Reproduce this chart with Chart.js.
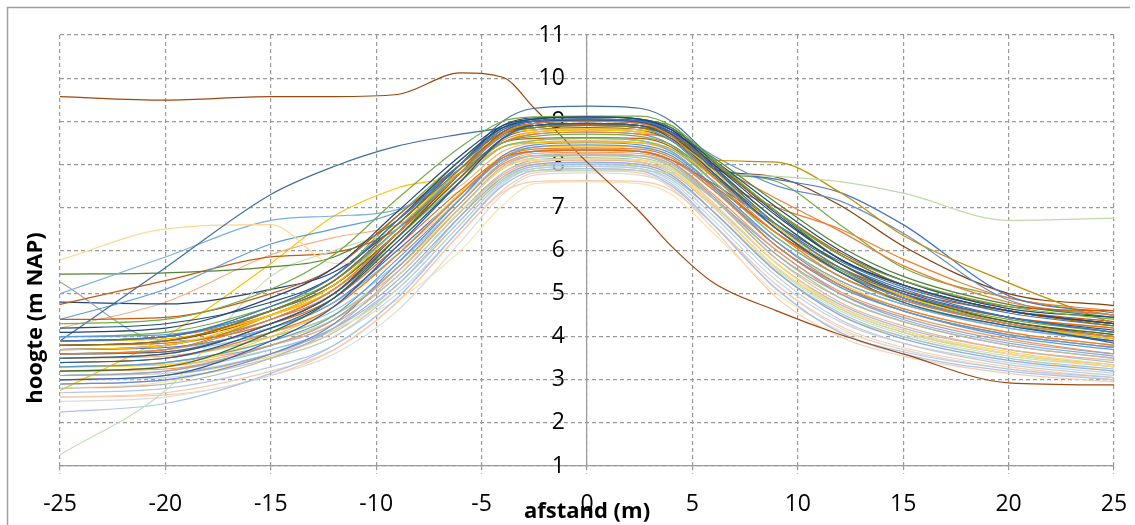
<!DOCTYPE html>
<html>
<head>
<meta charset="utf-8">
<script src="https://cdn.jsdelivr.net/npm/chart.js@4.4.1/dist/chart.umd.min.js"></script>
<style>
  body { margin: 0; background: #fff; }
  canvas { display: block; }
</style>
</head>
<body>
<canvas id="myChart" width="1135" height="525"></canvas>
<script>
// afstand (m) of the measuring points along every profile
const afstand = [-25, -20, -15, -12, -9, -6, -4, -2.5, 0, 2.5, 4, 6, 9, 12, 15, 20, 25];
const xTicks = [-25, -20, -15, -10, -5, 0, 5, 10, 15, 20, 25];
const yTicks = [1, 2, 3, 4, 5, 6, 7, 8, 9, 10, 11];

// hoogte (m NAP) per profile
const s01 = [3.9, 4.0, 4.7, 5.4, 6.7, 8.0, 8.8, 9.0, 9.05, 9.0, 8.75, 7.9, 6.6, 5.6, 5.0, 4.45, 4.1];
const s02 = [4.1, 4.2, 4.9, 5.6, 6.9, 8.2, 8.9, 9.05, 9.1, 9.05, 8.8, 8.0, 6.8, 5.8, 5.2, 4.6, 4.3];
const s03 = [3.6, 3.7, 4.4, 5.1, 6.4, 7.8, 8.7, 8.95, 9.0, 8.95, 8.65, 7.7, 6.4, 5.4, 4.85, 4.3, 4.0];
const s04 = [4.3, 4.4, 5.1, 5.9, 7.2, 8.4, 9.0, 9.1, 9.12, 9.12, 8.9, 8.1, 6.9, 5.9, 5.3, 4.7, 4.4];
const s05 = [3.4, 3.5, 4.2, 4.9, 6.2, 7.6, 8.6, 8.9, 8.95, 8.9, 8.6, 7.8, 6.5, 5.5, 4.8, 4.25, 3.9];
const s06 = [3.8, 3.9, 4.6, 5.3, 6.6, 7.9, 8.7, 8.85, 8.9, 8.85, 8.65, 8.0, 6.9, 5.9, 5.2, 4.6, 4.25];
const s07 = [4.0, 4.05, 4.6, 5.3, 6.5, 7.8, 8.65, 8.85, 8.9, 8.85, 8.55, 7.7, 6.5, 5.5, 4.9, 4.3, 4.0];
const s08 = [3.2, 3.3, 4.1, 4.9, 6.3, 7.8, 8.7, 8.9, 8.95, 8.9, 8.65, 7.9, 6.7, 5.7, 5.0, 4.35, 4.05];
const s09 = [4.2, 4.3, 4.8, 5.4, 6.7, 8.1, 8.85, 9.0, 9.02, 8.98, 8.75, 8.1, 7.0, 6.0, 5.3, 4.65, 4.45];
const s10 = [3.7, 3.8, 4.5, 5.2, 6.5, 7.9, 8.65, 8.8, 8.82, 8.8, 8.6, 7.85, 6.6, 5.6, 4.95, 4.3, 3.95];
const s11 = [3.0, 3.1, 3.9, 4.7, 6.1, 7.6, 8.6, 8.95, 9.0, 8.95, 8.7, 7.8, 6.6, 5.6, 4.9, 4.3, 3.85];
const s12 = [4.4, 4.45, 5.0, 5.6, 6.8, 8.0, 8.75, 8.9, 8.92, 8.9, 8.7, 8.0, 6.9, 5.95, 5.3, 4.7, 4.6];
const s13 = [3.9, 4.0, 4.6, 5.2, 6.4, 7.8, 8.75, 8.95, 9.0, 8.97, 8.75, 8.15, 7.1, 6.1, 5.4, 4.75, 4.45];
const s14 = [3.5, 3.6, 4.3, 5.0, 6.4, 7.8, 8.75, 9.0, 9.05, 9.02, 8.8, 7.95, 6.7, 5.7, 5.05, 4.45, 4.15];
const s15 = [3.8, 3.9, 4.6, 5.3, 6.6, 8.0, 9.0, 9.3, 9.35, 9.3, 9.0, 8.1, 6.9, 5.9, 5.2, 4.6, 4.3];
const s16 = [3.6, 3.65, 4.3, 5.0, 6.3, 7.7, 8.6, 8.8, 8.85, 8.8, 8.55, 7.75, 6.5, 5.5, 4.9, 4.35, 4.0];
const s17 = [3.4, 3.5, 4.1, 4.7, 5.9, 7.3, 8.15, 8.35, 8.38, 8.35, 8.15, 7.4, 6.1, 5.2, 4.65, 4.1, 3.8];
const s18 = [3.8, 3.85, 4.3, 4.9, 6.1, 7.4, 8.15, 8.3, 8.33, 8.3, 8.1, 7.5, 6.4, 5.5, 4.95, 4.45, 4.2];
const s19 = [3.3, 3.4, 3.9, 4.5, 5.8, 7.2, 8.15, 8.4, 8.45, 8.4, 8.2, 7.45, 6.1, 5.15, 4.6, 4.0, 3.7];
const s20 = [3.1, 3.2, 3.8, 4.4, 5.6, 7.1, 8.05, 8.3, 8.35, 8.3, 8.05, 7.25, 5.9, 5.0, 4.45, 3.9, 3.6];
const s21 = [3.5, 3.6, 4.3, 5.0, 6.3, 7.6, 8.4, 8.55, 8.6, 8.55, 8.35, 7.6, 6.3, 5.4, 4.8, 4.25, 3.95];
const s22 = [3.9, 3.95, 4.5, 5.1, 6.4, 7.7, 8.4, 8.5, 8.52, 8.5, 8.35, 7.7, 6.5, 5.5, 4.9, 4.35, 4.05];
const s23 = [2.9, 3.0, 3.6, 4.3, 5.7, 7.2, 8.2, 8.45, 8.5, 8.45, 8.25, 7.5, 6.2, 5.2, 4.6, 4.05, 3.75];
const s24 = [3.2, 3.25, 3.8, 4.4, 5.6, 7.1, 8.0, 8.25, 8.28, 8.25, 8.05, 7.3, 6.0, 5.05, 4.5, 3.95, 3.6];
const s25 = [3.6, 3.7, 4.2, 4.8, 5.9, 7.3, 8.1, 8.3, 8.32, 8.3, 8.1, 7.4, 6.2, 5.3, 4.75, 4.2, 3.9];
const s26 = [2.8, 2.9, 3.5, 4.2, 5.5, 7.0, 7.95, 8.2, 8.22, 8.2, 8.0, 7.2, 5.8, 4.9, 4.35, 3.8, 3.5];
const s27 = [3.3, 3.35, 4.0, 4.7, 5.9, 7.35, 8.2, 8.4, 8.42, 8.4, 8.2, 7.45, 6.2, 5.25, 4.65, 4.1, 3.8];
const s28 = [4.0, 4.1, 4.7, 5.3, 6.5, 7.8, 8.5, 8.65, 8.7, 8.65, 8.45, 7.7, 6.5, 5.55, 4.95, 4.4, 4.1];
const s29 = [3.7, 3.75, 4.2, 4.8, 6.0, 7.3, 8.1, 8.3, 8.33, 8.3, 8.1, 7.55, 6.6, 5.75, 5.15, 4.55, 4.25];
const s30 = [3.9, 4.0, 4.5, 5.1, 6.3, 7.7, 8.5, 8.7, 8.75, 8.7, 8.6, 8.0, 7.2, 6.45, 5.65, 4.8, 4.5];
const s31 = [9.57, 9.49, 9.57, 9.57, 9.62, 10.12, 10.02, 9.3, 8.05, 6.9, 6.1, 5.25, 4.6, 4.05, 3.6, 2.93, 2.88];
const s32 = [3.9, 5.6, 7.3, 7.95, 8.42, 8.7, 8.85, 9.05, 9.05, 9.0, 8.75, 7.9, 6.6, 5.7, 5.1, 4.45, 4.1];
const s33 = [5.78, 6.5, 6.6, 5.7, 6.0, 7.2, 8.0, 8.1, 8.12, 8.1, 7.9, 7.0, 5.6, 4.7, 4.15, 3.6, 3.3];
const s34 = [5.0, 5.85, 6.7, 6.8, 6.95, 7.8, 8.4, 8.55, 8.6, 8.55, 8.3, 7.5, 6.2, 5.3, 4.75, 4.2, 3.9];
const s35 = [4.4, 5.1, 6.15, 6.5, 6.9, 7.9, 8.5, 8.7, 8.75, 8.7, 8.45, 7.6, 6.3, 5.4, 4.85, 4.3, 4.0];
const s36 = [5.45, 5.48, 5.62, 5.85, 6.7, 8.0, 8.85, 9.05, 9.1, 9.05, 8.85, 8.05, 6.9, 5.8, 5.2, 4.6, 4.3];
const s37 = [1.26, 2.75, 5.4, 6.0, 6.5, 7.4, 8.0, 8.1, 8.12, 8.1, 7.85, 7.0, 5.6, 4.65, 4.1, 3.6, 3.3];
const s38 = [3.3, 3.4, 3.9, 4.4, 5.4, 6.9, 7.7, 7.85, 7.85, 7.85, 7.8, 7.78, 7.72, 7.6, 7.33, 6.7, 6.75];
const s39 = [3.6, 3.7, 4.5, 5.2, 6.5, 7.9, 8.7, 8.85, 8.9, 8.85, 8.75, 8.1, 8.05, 7.35, 6.35, 5.25, 4.3];
const s40 = [4.75, 5.3, 5.85, 5.95, 6.5, 7.8, 8.5, 8.6, 8.62, 8.6, 8.4, 7.6, 6.4, 5.6, 5.05, 4.6, 4.35];
const s41 = [5.27, 3.9, 4.3, 5.0, 6.2, 7.6, 8.4, 8.5, 8.52, 8.5, 8.3, 7.5, 6.1, 5.2, 4.6, 4.05, 3.75];
const s42 = [4.8, 4.76, 5.1, 5.5, 6.6, 8.0, 8.9, 9.08, 9.1, 9.05, 8.85, 8.05, 6.85, 5.8, 5.2, 4.6, 4.3];
const s43 = [2.25, 2.45, 3.15, 3.8, 4.9, 6.5, 7.5, 7.85, 7.9, 7.85, 7.5, 6.6, 5.1, 4.1, 3.6, 3.2, 3.0];
const s44 = [2.75, 4.0, 5.7, 6.8, 7.45, 7.8, 8.5, 8.75, 8.8, 8.75, 8.55, 7.8, 6.55, 5.6, 5.0, 4.45, 4.2];
const s45 = [4.2, 4.8, 5.9, 6.3, 6.6, 7.5, 8.3, 8.5, 8.55, 8.5, 8.3, 7.5, 6.2, 5.3, 4.75, 4.25, 3.95];
const s46 = [3.9, 4.0, 4.6, 5.2, 6.4, 7.8, 8.7, 8.9, 8.95, 8.9, 8.7, 7.95, 7.65, 7.35, 6.6, 4.95, 4.55];
const s47 = [3.7, 3.8, 4.4, 5.1, 6.4, 7.9, 8.8, 9.0, 9.05, 9.0, 8.8, 8.2, 7.5, 7.15, 6.4, 4.85, 4.5];
const s48 = [3.8, 3.9, 4.5, 5.2, 6.4, 7.8, 8.7, 8.85, 8.9, 8.85, 8.65, 7.9, 7.7, 7.05, 6.1, 5.0, 4.72];
const s49 = [3.7, 3.8, 4.4, 5.0, 6.3, 7.7, 8.55, 8.75, 8.8, 8.75, 8.55, 7.7, 7.0, 6.5, 5.8, 4.9, 4.6];
const s50 = [3.9, 4.0, 4.7, 5.4, 6.8, 8.1, 8.85, 9.0, 9.05, 9.0, 8.9, 7.9, 7.6, 6.6, 5.6, 4.9, 4.5];
const s51 = [3.0, 3.1, 3.6, 4.2, 5.3, 6.8, 7.7, 8.0, 8.05, 8.0, 7.75, 6.9, 5.5, 4.5, 3.95, 3.45, 3.2];
const s52 = [3.2, 3.3, 3.8, 4.3, 5.4, 6.9, 7.75, 8.05, 8.1, 8.05, 7.8, 7.0, 5.6, 4.65, 4.1, 3.6, 3.3];
const s53 = [2.9, 3.0, 3.5, 4.0, 5.1, 6.6, 7.6, 7.9, 7.95, 7.9, 7.65, 6.8, 5.4, 4.4, 3.85, 3.35, 3.1];
const s54 = [3.3, 3.35, 3.9, 4.4, 5.6, 7.0, 7.9, 8.1, 8.12, 8.1, 7.9, 7.1, 5.7, 4.7, 4.15, 3.65, 3.35];
const s55 = [3.1, 3.2, 3.7, 4.2, 5.2, 6.7, 7.65, 7.95, 8.0, 7.95, 7.7, 6.9, 5.5, 4.55, 4.0, 3.5, 3.25];
const s56 = [3.4, 3.5, 4.0, 4.5, 5.6, 7.0, 7.9, 8.15, 8.2, 8.15, 7.95, 7.2, 5.9, 4.9, 4.35, 3.8, 3.5];
const s57 = [2.7, 2.8, 3.3, 3.8, 4.9, 6.5, 7.5, 7.85, 7.9, 7.85, 7.55, 6.6, 5.1, 4.1, 3.65, 3.25, 3.05];
const s58 = [2.6, 2.7, 3.2, 3.7, 4.8, 6.4, 7.35, 7.6, 7.62, 7.6, 7.4, 6.6, 5.2, 4.25, 3.75, 3.3, 3.05];
const s59 = [2.5, 2.6, 3.1, 3.6, 4.6, 6.2, 7.3, 7.75, 7.8, 7.75, 7.5, 6.6, 5.2, 4.2, 3.7, 3.25, 3.0];
const s60 = [2.8, 2.95, 3.6, 4.2, 4.85, 6.0, 7.05, 7.55, 7.6, 7.55, 7.3, 6.4, 5.0, 4.15, 3.7, 3.25, 3.0];
const s61 = [3.0, 3.05, 3.5, 4.0, 5.0, 6.5, 7.55, 7.9, 7.95, 7.9, 7.6, 6.7, 5.3, 4.35, 3.85, 3.4, 3.15];
const s62 = [3.2, 3.3, 3.7, 4.15, 5.1, 6.6, 7.6, 7.95, 8.0, 7.95, 7.7, 6.9, 5.55, 4.6, 4.05, 3.55, 3.3];
const s63 = [3.5, 3.55, 4.0, 4.5, 5.5, 7.0, 7.9, 8.2, 8.22, 8.2, 8.0, 7.2, 5.8, 4.8, 4.25, 3.7, 3.45];
const s64 = [3.6, 3.65, 4.1, 4.6, 5.7, 7.1, 8.0, 8.2, 8.25, 8.2, 7.95, 7.1, 5.7, 4.75, 4.2, 3.7, 3.4];
const s65 = [3.1, 3.15, 3.6, 4.1, 5.2, 6.8, 7.8, 8.05, 8.1, 8.05, 7.85, 7.05, 5.7, 4.7, 4.15, 3.6, 3.35];
const s66 = [3.0, 3.1, 3.55, 4.1, 5.2, 6.7, 7.7, 8.0, 8.02, 8.0, 7.75, 6.9, 5.5, 4.5, 4.0, 3.5, 3.2];
const s67 = [3.3, 3.4, 3.8, 4.3, 5.4, 6.9, 7.8, 8.1, 8.15, 8.1, 7.9, 7.2, 6.0, 5.0, 4.4, 3.85, 3.55];
const s68 = [2.6, 2.65, 3.1, 3.7, 4.8, 6.4, 7.4, 7.8, 7.85, 7.8, 7.45, 6.5, 4.9, 4.0, 3.55, 3.15, 2.95];

const series = [s01, s02, s03, s04, s05, s06, s07, s08, s09, s10, s11, s12, s13, s14, s15, s16,
  s17, s18, s19, s20, s21, s22, s23, s24, s25, s26, s27, s28, s29, s30,
  s31, s32, s33, s34, s35, s36, s37, s38, s39, s40, s41, s42, s43, s44, s45, s46, s47, s48, s49, s50,
  s51, s52, s53, s54, s55, s56, s57, s58, s59, s60, s61, s62, s63, s64, s65, s66, s67, s68];

const colors = [
  '#4472C4', '#264478', '#ED7D31', '#70AD47', '#255E91', '#997300', '#5B9BD5', '#43682B',
  '#1F4E79', '#FFC000', '#335AA1', '#C55A11', '#548235', '#2F5597', '#41719C', '#636363',
  '#ED7D31', '#E46C0A', '#5B9BD5', '#A5A5A5', '#8CC168', '#FFC000', '#698ED0', '#F1975A',
  '#7CAFDD', '#B7B7B7', '#FFCD33', '#70AD47', '#4472C4', '#ED7D31',
  '#9E480E', '#3E6FA3', '#FFD58F', '#7CAFDD', '#5B9BD5', '#548235', '#C5E0B4', '#BFD8AC',
  '#BF9000', '#C55A11', '#A5A5A5', '#264478', '#A9C4E8', '#FFC000', '#F4B183', '#4472C4',
  '#698ED0', '#843C0C', '#ED7D31', '#70AD47',
  '#8FAADC', '#F4B183', '#C9C9C9', '#FFD966', '#9DC3E6', '#A9D18E', '#B4C7E7', '#F8CBAD',
  '#DBDBDB', '#FFE0B2', '#BDD7EE', '#C5E0B4', '#F4B183', '#9DC3E6', '#C9C9C9', '#FFD966',
  '#8FAADC', '#F8CBAD'
];

const gridColor = '#9a9a9a';

const datasets = series.map((vals, i) => ({
  label: 'profiel ' + (i + 1),
  data: vals.map((v, j) => ({ x: afstand[j], y: v })),
  borderColor: colors[i],
  borderWidth: 1.2,
  pointRadius: 0,
  fill: false,
  cubicInterpolationMode: 'monotone'
}));

const frame = {
  id: 'frame',
  beforeDraw(chart) {
    const ctx = chart.ctx;
    ctx.save();
    ctx.fillStyle = '#fff';
    ctx.fillRect(0, 0, chart.width, chart.height);
    ctx.strokeStyle = '#a0a0a0';
    ctx.lineWidth = 1.5;
    ctx.beginPath();
    ctx.moveTo(7.5, chart.height);
    ctx.lineTo(7.5, 7.5);
    ctx.lineTo(1130, 7.5);
    ctx.stroke();
    ctx.restore();
  },
  afterDraw(chart) {
    const ctx = chart.ctx;
    ctx.save();
    ctx.translate(36, 318);
    ctx.rotate(-Math.PI / 2);
    ctx.fillStyle = '#000';
    ctx.font = 'bold 22px "Open Sans"';
    ctx.textAlign = 'center';
    ctx.textBaseline = 'middle';
    ctx.fillText('hoogte (m NAP)', 0, 0);
    ctx.restore();
  }
};

// keep label overflow from pushing the plot area around
const noPadY = s => { s.paddingTop = 0; s.paddingBottom = 0; };

const config = {
  type: 'line',
  data: { datasets: datasets },
  options: {
    responsive: false,
    animation: false,
    layout: { padding: { left: 60, right: 21, top: 35, bottom: 0 } },
    plugins: { legend: { display: false }, tooltip: { enabled: false } },
    scales: {
      x: {
        type: 'linear',
        min: -25,
        max: 25,
        afterBuildTicks: s => { s.ticks = xTicks.map(v => ({ value: v })); },
        afterFit: s => { s.height = 59; s.paddingLeft = 0; s.paddingRight = 0; },
        ticks: { color: '#000', font: { family: 'Open Sans', size: 23 }, padding: 17, maxRotation: 0 },
        grid: { color: gridColor, lineWidth: 1.2, tickLength: 8, tickBorderDash: [4, 3] },
        border: { color: gridColor, width: 1.2, dash: [4, 3] },
        title: {
          display: true,
          text: 'afstand (m)',
          color: '#000',
          font: { family: 'Open Sans', size: 22, weight: 'bold' },
          padding: { top: 0, bottom: 0 }
        }
      },
      y: {
        type: 'linear',
        position: { x: 0 },
        min: 1,
        max: 11,
        afterBuildTicks: s => { s.ticks = yTicks.map(v => ({ value: v })); },
        afterFit: noPadY,
        ticks: { display: false },
        grid: { color: gridColor, lineWidth: 1.2, drawTicks: false },
        border: { color: gridColor, width: 1.2, dash: [4, 3] }
      },
      yLabels: {
        type: 'linear',
        position: { x: -1.05 },
        min: 1,
        max: 11,
        afterBuildTicks: s => { s.ticks = yTicks.map(v => ({ value: v })); },
        afterFit: noPadY,
        ticks: { color: '#000', font: { family: 'Open Sans', size: 23 } },
        grid: { display: false, drawTicks: false },
        border: { display: false }
      }
    }
  },
  plugins: [frame]
};

const myChart = new Chart(document.getElementById('myChart'), config);
</script>
</body>
</html>
